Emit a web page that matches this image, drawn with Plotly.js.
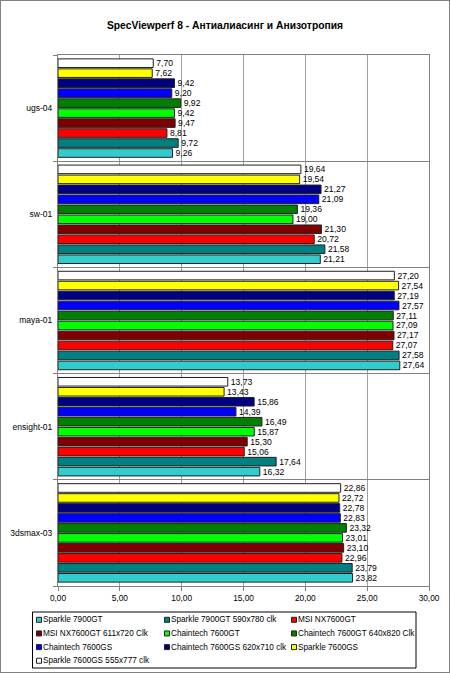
<!DOCTYPE html>
<html><head><meta charset="utf-8">
<script src="https://cdn.plot.ly/plotly-3.0.1.min.js"></script>
<style>
html,body{margin:0;padding:0;background:#fff;}
#chart{width:448px;height:671px;border:1px solid #808080;}
</style></head>
<body><div id="chart"></div>
<script>
var categories = ['3dsmax-03','ensight-01','maya-01','sw-01','ugs-04'];
var seriesNames = ['Sparkle 7900GT','Sparkle 7900GT 590x780 clk','MSI NX7600GT','MSI NX7600GT 611x720 Clk','Chaintech 7600GT','Chaintech 7600GT 640x820 Clk','Chaintech 7600GS','Chaintech 7600GS 620x710 clk','Sparkle 7600GS','Sparkle 7600GS 555x777 clk'];
var sparkle7900GT      = [23.82, 16.32, 27.64, 21.21, 9.26];
var sparkle7900GTclk   = [23.79, 17.64, 27.58, 21.58, 9.72];
var msi7600GT          = [22.96, 15.06, 27.07, 20.72, 8.81];
var msi7600GTclk       = [23.10, 15.30, 27.17, 21.30, 9.47];
var chaintech7600GT    = [23.01, 15.87, 27.09, 19.00, 9.42];
var chaintech7600GTclk = [23.32, 16.49, 27.11, 19.36, 9.92];
var chaintech7600GS    = [22.83, 14.39, 27.57, 21.09, 9.20];
var chaintech7600GSclk = [22.78, 15.86, 27.19, 21.27, 9.42];
var sparkle7600GS      = [22.72, 13.43, 27.54, 19.54, 7.62];
var sparkle7600GSclk   = [22.86, 13.73, 27.20, 19.64, 7.70];
var xTicks = [0,5,10,15,20,25,30];

var seriesValues = [sparkle7900GT, sparkle7900GTclk, msi7600GT, msi7600GTclk, chaintech7600GT, chaintech7600GTclk, chaintech7600GS, chaintech7600GSclk, sparkle7600GS, sparkle7600GSclk];
var colors = ['#33CCCC','#008080','#FF0000','#800000','#00FF00','#008000','#0000FF','#000080','#FFFF00','#FFFFFF'];
var font = 'Liberation Sans, Arial, sans-serif';

var traces = seriesValues.map(function(v,i){
  return {
    type:'bar', orientation:'h', name:seriesNames[i],
    x:v, y:categories,
    marker:{color:colors[i], line:{color:'#202020', width:1}},
    texttemplate:'%{x:.2f}', textposition:'outside', constraintext:'none', cliponaxis:false,
    textfont:{family:font, size:8.6, color:'#000'},
    hoverinfo:'x+name', showlegend:false
  };
});

// legend drawn as layout decorations (paper coordinates)
var W = 448, H = 671, mL = 57, mR = 20, mT = 54, mB = 86;
var pw = W - mL - mR, ph = H - mT - mB;
function px(X){ return (X - 1 - mL) / pw; }
function py(Y){ return (H + 1 - mB - Y) / ph; }
var legColX = [36, 164, 291], legRow0 = 619.8, legRowStep = 13.65;
var annotations = [], shapes = [];
shapes.push({type:'rect', xref:'paper', yref:'paper', x0:px(32.5), x1:px(416), y0:py(612), y1:py(668),
             line:{color:'#000', width:1}, fillcolor:'rgba(0,0,0,0)', layer:'above'});
seriesNames.forEach(function(n,i){
  var c = i % 3, r = Math.floor(i / 3);
  var cx = legColX[c], cy = legRow0 + r * legRowStep;
  shapes.push({type:'rect', xref:'paper', yref:'paper', xsizemode:'pixel', ysizemode:'pixel',
               xanchor:px(cx + 3), yanchor:py(cy), x0:-2.5, x1:2.5, y0:-2.5, y1:2.5,
               fillcolor:colors[i], line:{color:'#202020', width:1}, layer:'above'});
  annotations.push({xref:'paper', yref:'paper', x:px(cx + 6), y:py(cy), xanchor:'left', yanchor:'middle',
                    text:n, showarrow:false, font:{family:font, size:8.2, color:'#000'}, borderpad:0});
});

var layout = {
  width:W, height:H,
  separators:', ',
  paper_bgcolor:'#fff', plot_bgcolor:'#fff',
  margin:{l:mL, r:mR, t:mT, b:mB},
  barmode:'group', bargap:0.06, bargroupgap:0.14,
  title:{text:'<b>SpecViewperf 8 - Антиалиасинг и Анизотропия</b>', font:{family:font, size:10.3, color:'#000'}, x:0.5, xanchor:'center', y:1-24/H, yanchor:'middle'},
  xaxis:{range:[0,30], tickvals:xTicks, tickformat:'.2f', showgrid:true, gridcolor:'#a0a0a0', gridwidth:1,
         showline:true, linecolor:'#808080', mirror:true, ticks:'outside', ticklen:4, tickcolor:'#808080',
         tickfont:{family:font, size:8.3, color:'#000'}, zeroline:false, fixedrange:true},
  yaxis:{type:'category', tickson:'boundaries', showgrid:true, gridcolor:'#808080', gridwidth:1,
         showline:true, linecolor:'#808080', mirror:true, ticks:'outside', ticklen:4, tickcolor:'#808080',
         tickfont:{family:font, size:8.5, color:'#000'}, ticklabelstandoff:3, fixedrange:true},
  showlegend:false,
  shapes:shapes,
  annotations:annotations
};
Plotly.newPlot('chart', traces, layout, {displayModeBar:false, staticPlot:true});
</script></body></html>
